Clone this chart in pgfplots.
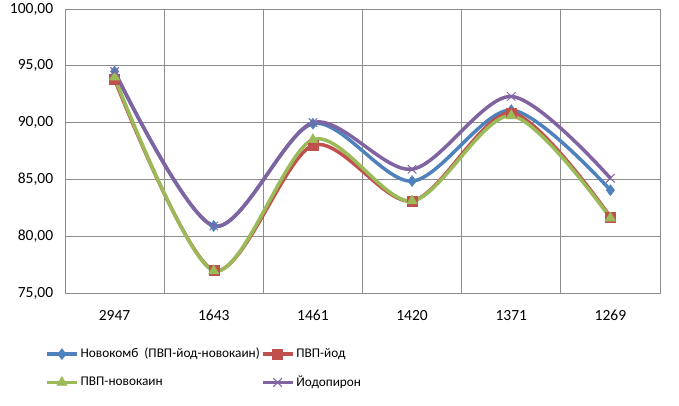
\documentclass[border=0pt]{standalone}
\usepackage{fontspec}
\setmainfont{Carlito}
\usepackage{pgfplots}
\pgfplotsset{compat=1.18}
\definecolor{sblue}{HTML}{4F81BD}
\definecolor{sred}{HTML}{C0504D}
\definecolor{sgreen}{HTML}{9BBB59}
\definecolor{spurple}{HTML}{8064A2}
\definecolor{gridgray}{HTML}{8C8C8C}
\begin{document}
\fontsize{14}{16}\selectfont
\begin{tikzpicture}[x=1pt,y=1pt]
\path[use as bounding box] (-65,-112) rectangle (614,293);
\begin{axis}[
    at={(0,0)}, anchor=south west,
    scale only axis,
    width=595pt, height=284pt,
    xmin=-0.5, xmax=5.5,
    ymin=75, ymax=100,
    ytick={75,80,85,90,95,100},
    xtick={0,1,2,3,4,5},
    xticklabels={2947,1643,1461,1420,1371,1269},
    minor xtick={-0.5,0.5,1.5,2.5,3.5,4.5,5.5},
    xminorgrids=true, ymajorgrids=true,
    major tick length=0pt, minor tick length=0pt,
    axis line style={gridgray, line width=1pt},
    grid style={gridgray, line width=1pt},
    minor grid style={gridgray, line width=1pt},
    /pgf/number format/assume math mode=true,
    y tick label style={/pgf/number format/fixed, /pgf/number format/fixed zerofill,
        /pgf/number format/precision=2, /pgf/number format/use comma, xshift=-7pt},
    xticklabel style={anchor=north, text height=10pt, text depth=0pt, yshift=-13pt},
    tick label style={font=\fontsize{15.5}{17}\selectfont},
    legend style={at={(-20pt,-54pt)}, anchor=north west, draw=none, fill=none,
        legend columns=2, font=\fontsize{13.3}{15}\selectfont,
        /tikz/every odd column/.append style={column sep=1pt},
        row sep=14pt, inner sep=0pt, nodes={inner sep=1pt}},
    legend cell align=left,
    legend image code/.code={\draw[mark repeat=2,mark phase=2] plot coordinates {(0pt,0pt) (15pt,0pt) (30pt,0pt)};},
    every axis plot/.append style={smooth, line width=3.5pt},
]
\addplot[sblue, mark=diamond*, mark size=5.5pt, mark options={line width=0.5pt}] coordinates {(0,94.5) (1,80.9) (2,89.9) (3,84.85) (4,91.1) (5,84.05)};
\addlegendentry{Новокомб\ \ (ПВП-йод-новокаин)}
\addplot[sred, mark=square*, mark size=5pt, mark options={line width=0.5pt}] coordinates {(0,93.8) (1,77.0) (2,88.0) (3,83.1) (4,90.85) (5,81.7)};
\addlegendentry{ПВП-йод}
\addplot[sgreen, mark=triangle*, mark size=6pt, mark options={line width=0.5pt}] coordinates {(0,94.0) (1,76.95) (2,88.5) (3,83.1) (4,90.6) (5,81.6)};
\addlegendentry{ПВП-новокаин}
\addplot[spurple, mark=x, mark size=6pt, mark options={line width=1pt}] coordinates {(0,94.5) (1,80.9) (2,90.0) (3,85.9) (4,92.3) (5,85.1)};
\addlegendentry{Йодопирон}
\end{axis}
\end{tikzpicture}
\end{document}
